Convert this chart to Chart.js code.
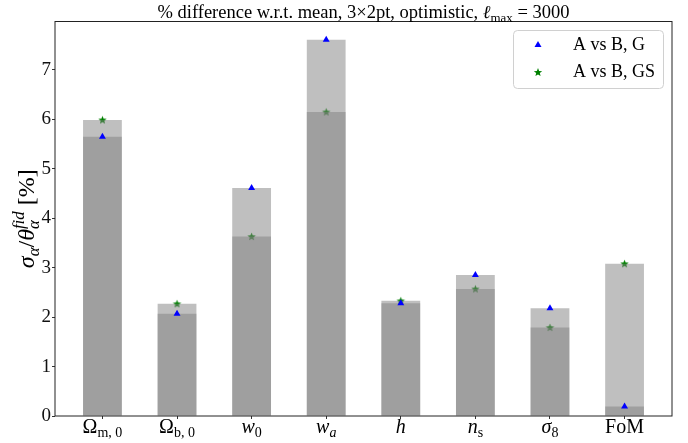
<!DOCTYPE html>
<html>
<head>
<meta charset="utf-8">
<script src="https://cdn.jsdelivr.net/npm/chart.js@4.4.0/dist/chart.umd.min.js"></script>
<style>
    body { margin: 0; background: #fff; }
</style>
</head>
<body>
<canvas id="chart" width="688" height="443" style="width:688px;height:443px"></canvas>
<script>
// values (% difference)
const categories = ["Omega_m0", "Omega_b0", "w0", "wa", "h", "ns", "sigma8", "FoM"];
const valuesG = [5.65, 2.07, 4.61, 7.61, 2.28, 2.85, 2.18, 0.19];
const valuesGS = [5.99, 2.27, 3.63, 6.15, 2.33, 2.57, 1.79, 3.08];
const yTicks = [0, 1, 2, 3, 4, 5, 6, 7];
// tick labels with sub/superscripts
const tickLabels = [
    [{ t: "Ω" }, { t: "m, 0", sub: 1 }],
    [{ t: "Ω" }, { t: "b, 0", sub: 1 }],
    [{ t: "w", it: 1 }, { t: "0", sub: 1 }],
    [{ t: "w", it: 1 }, { t: "a", sub: 1, it: 1 }],
    [{ t: "h", it: 1 }],
    [{ t: "n", it: 1 }, { t: "s", sub: 1 }],
    [{ t: "σ", it: 1 }, { t: "8", sub: 1 }],
    [{ t: "FoM" }]
];
const titleText = [{ t: "% difference w.r.t. mean, 3×2pt, optimistic, " }, { t: "ℓ", it: 1 }, { t: "max", sub: 1 }, { t: " = 3000" }];
const yLabelText = [{ t: "σ", it: 1 }, { t: "α", it: 1, sub: 1 }, { t: "/" }, { t: "θ", it: 1 }, { t: "α", it: 1, sub: 1, noAdv: 1 }, { t: "fid", it: 1, sup: 1 }, { t: " [%]" }];
const legendNames = ["A vs B, G", "A vs B, GS"];

const serif = '"Liberation Serif", "DejaVu Serif", serif';

function segFont(s, size) {
    const f = (s.sub || s.sup) ? size * 0.7 : size;
    return (s.it ? "italic " : "") + f + "px " + serif;
}

function drawRich(ctx, segs, x, y, size, align) {
    let w = 0;
    segs.forEach(s => {
        ctx.font = segFont(s, size);
        s.w = ctx.measureText(s.t).width;
        if (!s.noAdv) w += s.w;
    });
    let cx = align === "center" ? x - w / 2 : x;
    ctx.textAlign = "left";
    ctx.textBaseline = "alphabetic";
    segs.forEach(s => {
        ctx.font = segFont(s, size);
        const dy = s.sub ? size * 0.22 : (s.sup ? -size * 0.4 : 0);
        ctx.fillText(s.t, cx, y + dy);
        if (!s.noAdv) cx += s.w;
    });
}

function starPath(ctx, x, y, ro, ri) {
    ctx.beginPath();
    for (let k = 0; k < 10; k++) {
        const r = k % 2 ? ri : ro;
        const a = -Math.PI / 2 + k * Math.PI / 5;
        ctx.lineTo(x + r * Math.cos(a), y + r * Math.sin(a));
    }
    ctx.closePath();
}

const starImg = document.createElement("canvas");
starImg.width = 11;
starImg.height = 11;
const sctx = starImg.getContext("2d");
sctx.fillStyle = "#008000";
starPath(sctx, 5.5, 5.8, 4.4, 1.9);
sctx.fill();

const overlay = {
    id: "overlay",
    afterDraw(chart) {
        const ctx = chart.ctx;
        const a = chart.chartArea;
        const xs = chart.scales.x;
        ctx.save();

        // frame
        ctx.strokeStyle = "#222";
        ctx.lineWidth = 1;
        ctx.strokeRect(a.left, a.top, a.right - a.left, a.bottom - a.top);

        ctx.fillStyle = "#000";
        // title
        drawRich(ctx, titleText, (a.left + a.right) / 2, 18, 18.5, "center");

        // x tick labels
        tickLabels.forEach((segs, i) => {
            drawRich(ctx, segs, xs.getPixelForValue(i), 433, 20, "center");
        });

        // y label
        ctx.save();
        ctx.translate(34, (a.top + a.bottom) / 2);
        ctx.rotate(-Math.PI / 2);
        drawRich(ctx, yLabelText, 0, 0, 24, "center");
        ctx.restore();

        // legend
        ctx.beginPath();
        ctx.roundRect(513.5, 30.5, 150, 58, 4);
        ctx.fillStyle = "rgba(255,255,255,0.8)";
        ctx.fill();
        ctx.strokeStyle = "#d0d0d0";
        ctx.stroke();

        ctx.fillStyle = "#0000ff";
        ctx.beginPath();
        ctx.moveTo(538, 41);
        ctx.lineTo(541.5, 47);
        ctx.lineTo(534.5, 47);
        ctx.closePath();
        ctx.fill();
        ctx.fillStyle = "#008000";
        starPath(ctx, 538, 72.5, 4.4, 1.9);
        ctx.fill();

        ctx.fillStyle = "#000";
        ctx.font = "18px " + serif;
        ctx.textBaseline = "middle";
        ctx.textAlign = "left";
        ctx.fillText(legendNames[0], 573, 45);
        ctx.fillText(legendNames[1], 573, 72);
        ctx.restore();
    }
};

const points = vals => vals.map((v, i) => ({ x: i, y: v }));

new Chart(document.getElementById("chart"), {
    type: "bar",
    data: {
        datasets: [
            {
                type: "line",
                label: legendNames[0],
                data: points(valuesG),
                showLine: false,
                pointStyle: "triangle",
                pointRadius: 4,
                pointBackgroundColor: "#0000ff",
                pointBorderWidth: 0,
                order: 0
            },
            {
                label: "bar G",
                data: points(valuesG),
                backgroundColor: "rgba(128,128,128,0.5)",
                grouped: false,
                barPercentage: 0.52,
                categoryPercentage: 1,
                order: 1
            },
            {
                label: "bar GS",
                data: points(valuesGS),
                backgroundColor: "rgba(128,128,128,0.5)",
                grouped: false,
                barPercentage: 0.52,
                categoryPercentage: 1,
                order: 1
            },
            {
                type: "line",
                label: legendNames[1],
                data: points(valuesGS),
                showLine: false,
                pointStyle: starImg,
                order: 2
            }
        ]
    },
    options: {
        responsive: false,
        animation: false,
        layout: { padding: { left: 0, top: 21.5, right: 16, bottom: 0 } },
        scales: {
            x: {
                type: "linear",
                min: -0.636,
                max: 7.636,
                offset: false,
                grid: { offset: false, drawOnChartArea: false, drawTicks: true, tickLength: 3, color: "#333" },
                border: { display: false },
                ticks: { stepSize: 1, includeBounds: false, callback: () => "" },
                afterFit: s => { s.height = 27; }
            },
            y: {
                min: 0,
                max: 7.98,
                grid: { drawOnChartArea: false, drawTicks: true, tickLength: 3, color: "#333" },
                border: { display: false },
                ticks: {
                    stepSize: 1,
                    includeBounds: false,
                    padding: 1,
                    color: "#111",
                    font: { family: "Liberation Serif", size: 19 },
                    callback: v => yTicks.includes(v) ? String(v) : ""
                },
                afterFit: s => { s.width = 55; }
            }
        },
        plugins: {
            legend: { display: false },
            tooltip: { enabled: false },
            title: { display: false }
        }
    },
    plugins: [overlay]
});
</script>
</body>
</html>
